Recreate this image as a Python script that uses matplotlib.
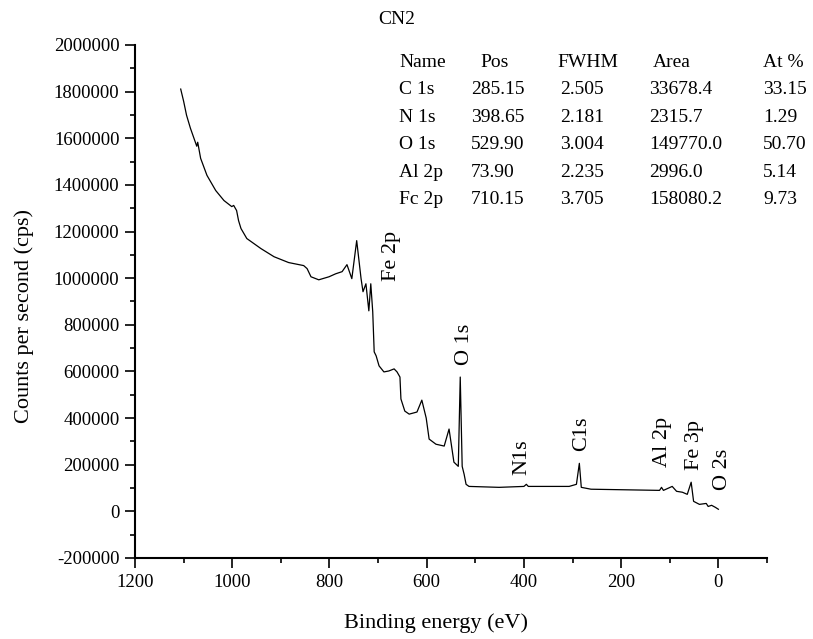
import matplotlib
matplotlib.use('Agg')
import matplotlib.pyplot as plt
from matplotlib.ticker import MultipleLocator, FuncFormatter

plt.rcParams['font.family'] = ['Liberation Serif', 'DejaVu Serif']
plt.rcParams['axes.unicode_minus'] = False

# survey spectrum (binding energy in eV, counts per second)
binding_energy = [1106, 1100, 1094, 1086, 1075, 1073, 1071, 1065, 1052, 1034, 1017, 1001,
                  997, 991, 987, 982, 970, 941, 914, 884, 853, 846, 838, 822, 801, 787,
                  774, 764, 754, 744, 735, 731, 725, 719, 715, 711, 708, 704, 698, 688,
                  678, 667, 661, 655, 653, 645, 636, 620, 610, 601, 595, 581, 564, 554,
                  544, 535, 531, 527, 523, 519, 513, 451, 400, 395, 391, 307, 292, 286,
                  282, 262, 121, 117, 113, 95, 86, 74, 64, 56, 51, 39, 25, 21, 14, 6, 0]
counts = [1811000, 1759000, 1699000, 1643000, 1578000, 1566000, 1583000, 1514000,
          1441000, 1376000, 1333000, 1307000, 1312000, 1290000, 1247000, 1213000,
          1170000, 1127000, 1092000, 1067000, 1054000, 1041000, 1006000, 993000,
          1006000, 1019000, 1028000, 1058000, 998000, 1161000, 998000, 942000, 976000,
          860000, 976000, 856000, 684000, 667000, 624000, 598000, 602000, 611000,
          598000, 576000, 482000, 430000, 417000, 426000, 477000, 400000, 310000,
          288000, 280000, 353000, 211000, 193000, 576000, 193000, 159000, 116000,
          107000, 103000, 107000, 116000, 107000, 107000, 116000, 206000, 103000,
          95000, 90000, 103000, 90000, 107000, 86000, 82000, 73000, 125000, 43000,
          30000, 34000, 21000, 26000, 17000, 9000]

# peak labels and where they sit
peak_names = ['Fe 2p', 'O 1s', 'N1s', 'C1s', 'Al 2p', 'Fe 3p', 'O 2s']
peak_x = [673, 523, 404, 282, 115, 49, -8]
peak_y = [1097000, 714000, 232000, 331000, 297000, 284000, 181000]

# quantification table
table_header = ['Name', 'Pos', 'FWHM', 'Area', 'At %']
table_names = ['C 1s', 'N 1s', 'O 1s', 'Al 2p', 'Fc 2p']
table_pos = ['285.15', '398.65', '529.90', '73.90', '710.15']
table_fwhm = ['2.505', '2.181', '3.004', '2.235', '3.705']
table_area = ['33678.4', '2315.7', '149770.0', '2996.0', '158080.2']
table_at = ['33.15', '1.29', '50.70', '5.14', '9.73']

W, H = 813, 639
fig = plt.figure(figsize=(W / 100, H / 100), dpi=100)
ax = fig.add_axes([135 / W, 1 - 558 / H, 632 / W, 513 / H])

ax.plot(binding_energy, counts, color='black', lw=0.9)
ax.set_xlim(1200, -100)
ax.set_ylim(-200000, 2000000)
ax.set_xticks([1200, 1000, 800, 600, 400, 200, 0])
ax.xaxis.set_minor_locator(MultipleLocator(100))
ax.yaxis.set_major_locator(MultipleLocator(200000))
ax.yaxis.set_minor_locator(MultipleLocator(100000))
ax.xaxis.set_major_formatter(FuncFormatter(lambda v, p: '%d' % round(v)))
ax.yaxis.set_major_formatter(FuncFormatter(lambda v, p: '%d' % round(v)))

for side in ['top', 'right']:
    ax.spines[side].set_visible(False)
for side in ['left', 'bottom']:
    ax.spines[side].set_linewidth(1.5)
ax.tick_params(which='major', direction='out', length=7.2, width=1.2, labelsize=13.5, pad=4)
ax.tick_params(which='minor', direction='out', length=3.6, width=1.2)

for name, x, y in zip(peak_names, peak_x, peak_y):
    ax.text(x, y, name, rotation=90, ha='center', va='center', fontsize=16)

def px(x, y):
    return x / W, 1 - y / H

fig.text(*px(24, 316), 'Counts per second (cps)', rotation=90, ha='center', va='center', fontsize=16)
fig.text(*px(436, 628), 'Binding energy (eV)', ha='center', va='baseline', fontsize=16)
fig.text(*px(397, 24), 'CN2', ha='center', va='baseline', fontsize=14)

col_x = [399, 480, 557, 653, 763]
for x, h in zip(col_x, table_header):
    fig.text(*px(x, 67), h, ha='left', va='baseline', fontsize=14)
row_y = [94, 122, 149, 177, 204]
cols = [table_names, table_pos, table_fwhm, table_area, table_at]
entry_x = [399, 471, 560, 649, 763]
for x, col in zip(entry_x, cols):
    for y, val in zip(row_y, col):
        fig.text(*px(x, y), val, ha='left', va='baseline', fontsize=14)

fig.savefig('out.png', dpi=100)
